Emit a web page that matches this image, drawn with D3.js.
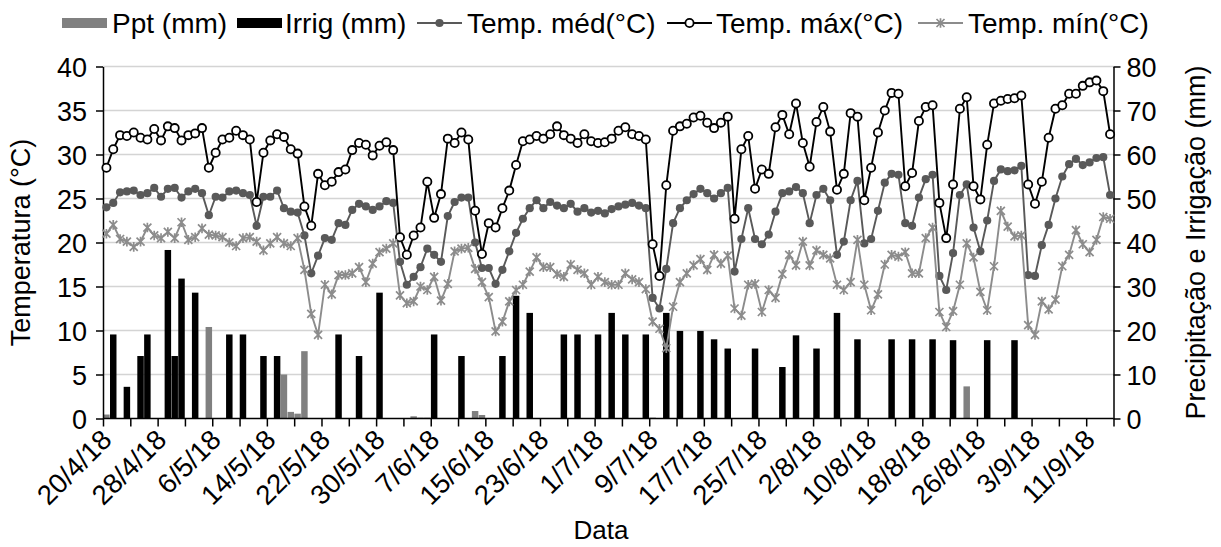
<!DOCTYPE html>
<html>
<head>
<meta charset="utf-8">
<script src="https://cdnjs.cloudflare.com/ajax/libs/d3/7.8.5/d3.min.js"></script>
<style>
  body { margin: 0; background: #fff; }
  svg { font-family: "Liberation Sans", Arial, sans-serif; }
  .axis path, .axis line { stroke: #000; stroke-width: 1.5; }
  .axis text { font-size: 27px; fill: #000; }
</style>
</head>
<body>
<svg></svg>
<script>
// Datas (uma por dia, 20/4/18 a 14/9/18)
const startDate = Date.UTC(2018, 3, 20);
const endDate = Date.UTC(2018, 8, 15);

// Temperaturas diárias (°C)
const tMax = [28.5, 30.6, 32.2, 32.1, 32.5, 31.9, 31.7, 32.9, 31.6, 33.2, 33.0, 31.6, 32.2, 32.4, 33.0, 28.5, 30.2, 31.7, 31.9, 32.7,
  32.2, 31.7, 24.6, 30.2, 31.6, 32.3, 32.0, 30.6, 30.1, 24.1, 21.9, 27.8, 26.5, 26.9, 28.0, 28.3, 30.5, 31.3, 31.1, 29.9,
  31.0, 31.4, 30.5, 20.6, 18.6, 20.8, 21.7, 26.9, 22.8, 25.5, 31.8, 31.3, 32.5, 31.7, 23.6, 18.7, 22.2, 21.7, 23.9, 25.9,
  28.8, 31.5, 31.7, 32.1, 31.8, 32.3, 33.2, 32.2, 31.8, 31.3, 32.3, 31.5, 31.3, 31.4, 31.8, 32.7, 33.1, 32.3, 32.1, 31.7,
  19.8, 16.2, 26.5, 32.7, 33.2, 33.5, 34.2, 34.4, 33.6, 33.0, 33.6, 34.3, 22.7, 30.6, 32.1, 26.1, 28.3, 27.8, 33.1, 34.5,
  32.3, 35.8, 31.3, 28.6, 33.7, 35.4, 32.6, 26.0, 27.8, 34.7, 34.3, 24.8, 28.5, 32.5, 35.0, 37.0, 36.9, 26.4, 27.9, 33.8,
  35.4, 35.6, 24.5, 20.5, 26.6, 35.2, 36.5, 26.4, 24.9, 31.1, 35.8, 36.1, 36.3, 36.4, 36.7, 26.6, 24.4, 26.9, 31.9, 35.2,
  35.6, 36.9, 36.9, 37.8, 38.2, 38.4, 37.2, 32.3];

const tMed = [24.0, 24.5, 25.7, 25.8, 25.9, 25.4, 25.6, 26.2, 25.2, 26.1, 26.2, 25.1, 25.8, 26.1, 25.6, 23.1, 25.2, 25.1, 25.8, 25.9,
  25.6, 25.4, 21.9, 25.2, 25.2, 25.9, 23.9, 23.5, 23.4, 20.8, 16.5, 18.5, 20.5, 20.3, 22.2, 22.0, 23.7, 24.4, 24.1, 23.7,
  24.1, 24.7, 24.5, 17.8, 15.2, 16.1, 17.2, 19.3, 18.6, 17.8, 23.0, 24.6, 25.1, 25.1, 20.0, 17.1, 17.1, 15.3, 16.9, 19.0,
  21.1, 22.7, 23.9, 24.8, 23.9, 24.6, 24.2, 23.9, 24.4, 23.5, 23.9, 23.4, 23.6, 23.3, 23.8, 24.1, 24.3, 24.5, 24.2, 23.9,
  13.7, 12.5, 17.0, 22.2, 23.9, 24.8, 25.5, 26.1, 25.6, 25.0, 25.6, 26.2, 16.7, 20.4, 23.9, 20.4, 19.8, 20.9, 23.5, 25.6,
  25.8, 26.3, 25.6, 22.2, 25.4, 26.1, 24.8, 18.6, 20.1, 24.8, 27.0, 19.9, 20.4, 23.6, 26.8, 27.8, 27.7, 22.2, 21.9, 25.1,
  27.2, 27.7, 16.2, 14.6, 18.8, 25.4, 26.6, 21.7, 19.0, 22.5, 27.0, 28.3, 28.1, 28.2, 28.7, 16.3, 16.2, 19.7, 22.0, 25.0,
  27.5, 28.9, 29.5, 28.8, 29.1, 29.6, 29.7, 25.4];

const tMin = [21.0, 22.0, 20.4, 20.1, 19.5, 20.1, 21.7, 20.8, 20.5, 21.2, 20.5, 22.3, 20.3, 20.6, 21.6, 20.9, 20.8, 20.6, 20.0, 19.6,
  20.5, 20.6, 20.1, 19.1, 19.9, 20.6, 19.9, 19.6, 20.5, 16.9, 11.9, 9.5, 15.2, 14.1, 16.3, 16.3, 16.5, 17.2, 15.5, 17.6,
  18.9, 19.3, 19.9, 14.0, 13.1, 13.3, 15.0, 14.6, 16.1, 13.4, 15.3, 19.0, 19.3, 19.4, 17.0, 15.5, 13.8, 9.9, 11.0, 13.3,
  14.6, 15.2, 16.7, 18.3, 17.2, 17.2, 16.4, 16.1, 17.5, 16.9, 16.5, 15.2, 16.1, 15.5, 15.2, 15.2, 16.5, 15.8, 15.5, 14.7,
  11.0, 10.2, 8.0, 12.7, 15.5, 16.5, 17.4, 18.1, 16.9, 18.6, 17.6, 18.5, 12.5, 11.7, 15.2, 15.3, 12.1, 14.6, 13.7, 16.4,
  18.6, 17.4, 20.1, 17.4, 19.1, 18.6, 18.2, 15.2, 14.6, 15.5, 20.3, 15.2, 12.3, 14.1, 17.5, 18.6, 18.4, 18.9, 16.5, 16.5,
  20.5, 21.7, 12.1, 10.4, 12.2, 15.2, 19.9, 18.3, 14.4, 12.3, 17.3, 23.6, 21.8, 20.7, 20.8, 10.6, 9.5, 13.3, 12.4, 13.5,
  17.3, 18.6, 21.4, 19.8, 18.9, 20.3, 22.9, 22.7];

// Precipitação (mm) - só os dias com chuva
const ppt = [
  ["2018-04-20", 0.9], ["2018-05-05", 20.8], ["2018-05-16", 10.0], ["2018-05-17", 1.5], ["2018-05-18", 1.1],
  ["2018-05-19", 15.3], ["2018-06-04", 0.5], ["2018-06-05", 0.2], ["2018-06-06", 0.2], ["2018-06-13", 1.7],
  ["2018-06-14", 0.8], ["2018-07-09", 0.2], ["2018-08-24", 7.3]
];

// Irrigação (mm)
const irrig = [
  ["2018-04-21", 19.1], ["2018-04-23", 7.2], ["2018-04-25", 14.2], ["2018-04-26", 19.1], ["2018-04-29", 38.3],
  ["2018-04-30", 14.2], ["2018-05-01", 31.8], ["2018-05-03", 28.6], ["2018-05-08", 19.1], ["2018-05-10", 19.1],
  ["2018-05-13", 14.2], ["2018-05-15", 14.2], ["2018-05-24", 19.1], ["2018-05-27", 14.2], ["2018-05-30", 28.6],
  ["2018-06-07", 19.1], ["2018-06-11", 14.2], ["2018-06-17", 14.2], ["2018-06-19", 27.9], ["2018-06-21", 24.0],
  ["2018-06-26", 19.1], ["2018-06-28", 19.1], ["2018-07-01", 19.1], ["2018-07-03", 24.0], ["2018-07-05", 19.1],
  ["2018-07-08", 19.1], ["2018-07-11", 24.0], ["2018-07-13", 19.9], ["2018-07-16", 19.9], ["2018-07-18", 18.0],
  ["2018-07-20", 15.9], ["2018-07-24", 15.9], ["2018-07-28", 11.7], ["2018-07-30", 18.9], ["2018-08-02", 15.9],
  ["2018-08-05", 24.0], ["2018-08-08", 18.0], ["2018-08-13", 18.0], ["2018-08-16", 18.0], ["2018-08-19", 18.0],
  ["2018-08-22", 17.8], ["2018-08-27", 17.8], ["2018-08-31", 17.8]
];

// Eixos
const leftTicks = [0, 5, 10, 15, 20, 25, 30, 35, 40];
const rightTicks = [0, 10, 20, 30, 40, 50, 60, 70, 80];

const width = 1221;
const height = 547;
const plot = { left: 103, right: 1113.5, top: 66.5, bottom: 418.5 };

const svg = d3.select("svg")
  .attr("width", width)
  .attr("height", height);

const dates = d3.utcDay.range(new Date(startDate), new Date(endDate));
const parse = d3.utcParse("%Y-%m-%d");
const fmt = d3.utcFormat("%-d/%-m/%y");

const x = d3.scaleUtc()
  .domain([new Date(startDate), new Date(endDate)])
  .range([plot.left, plot.right]);
const dayW = x(d3.utcDay.offset(new Date(startDate), 1)) - x(new Date(startDate));
const barW = dayW * 0.95;
const cx = d => x(d) + dayW / 2;

const yL = d3.scaleLinear().domain([0, 40]).range([plot.bottom, plot.top]);
const yR = d3.scaleLinear().domain([0, 80]).range([plot.bottom, plot.top]);

// Linhas de grade
svg.append("g")
  .selectAll("line")
  .data(leftTicks.slice(1))
  .join("line")
  .attr("x1", plot.left)
  .attr("x2", plot.right)
  .attr("y1", d => yL(d))
  .attr("y2", d => yL(d))
  .attr("stroke", "#d4d4d4")
  .attr("stroke-width", 1.3);

// Barras
svg.append("g")
  .selectAll("rect")
  .data(ppt)
  .join("rect")
  .attr("x", d => x(parse(d[0])) + (dayW - barW) / 2)
  .attr("y", d => yR(d[1]))
  .attr("width", barW)
  .attr("height", d => yR(0) - yR(d[1]))
  .attr("fill", "#808080");

svg.append("g")
  .selectAll("rect")
  .data(irrig)
  .join("rect")
  .attr("x", d => x(parse(d[0])) + (dayW - barW) / 2)
  .attr("y", d => yR(d[1]))
  .attr("width", barW)
  .attr("height", d => yR(0) - yR(d[1]))
  .attr("fill", "#000");

// Eixo X
const xAxis = d3.axisBottom(x)
  .tickValues(d3.utcDay.range(new Date(startDate), d3.utcDay.offset(new Date(endDate), 1), 4))
  .tickSize(8)
  .tickFormat("");

svg.append("g")
  .attr("class", "axis")
  .attr("transform", `translate(0, ${plot.bottom})`)
  .call(xAxis)
  .call(g => g.select(".domain").attr("d", `M${plot.left},0H${plot.right}`));

svg.append("g")
  .selectAll("text")
  .data(dates.filter((d, i) => i % 8 === 0))
  .join("text")
  .attr("transform", d => `translate(${cx(d) + 7}, ${plot.bottom + 23}) rotate(-45)`)
  .attr("text-anchor", "end")
  .attr("font-size", 27.5)
  .text(d => fmt(d));

// Eixos Y
svg.append("g")
  .attr("class", "axis")
  .attr("transform", `translate(${plot.left}, 0)`)
  .call(d3.axisLeft(yL).tickValues(leftTicks).tickSize(7).tickPadding(9).tickSizeOuter(0))
  .call(g => g.selectAll("text").attr("dy", "0.36em"));

svg.append("g")
  .attr("class", "axis")
  .attr("transform", `translate(${plot.right}, 0)`)
  .call(d3.axisRight(yR).tickValues(rightTicks).tickSize(7).tickPadding(6).tickSizeOuter(0))
  .call(g => g.selectAll("text").attr("dy", "0.36em"));

// Títulos dos eixos
svg.append("text")
  .attr("text-anchor", "middle")
  .attr("transform", `translate(30, ${(plot.top + plot.bottom) / 2}) rotate(-90)`)
  .attr("font-size", 27)
  .text("Temperatura (°C)");

svg.append("text")
  .attr("text-anchor", "middle")
  .attr("transform", `translate(1186, ${(plot.top + plot.bottom) / 2}) rotate(-90)`)
  .attr("dy", "0.7em")
  .attr("font-size", 27)
  .text("Precipitação e Irrigação (mm)");

svg.append("text")
  .attr("text-anchor", "middle")
  .attr("x", 601)
  .attr("y", 539)
  .attr("font-size", 26)
  .text("Data");

// Séries de temperatura
const series = [
  { name: "Temp. méd(°C)", values: tMed, color: "#595959", marker: "dot" },
  { name: "Temp. máx(°C)", values: tMax, color: "#000", marker: "circle" },
  { name: "Temp. mín(°C)", values: tMin, color: "#8c8c8c", marker: "star" }
];

const starPath = "M-4,-4L4,4M-4,4L4,-4M0,-4.8V4.8";

function drawMarker(g, type, color) {
  if (type === "dot") {
    g.append("circle").attr("r", 4.1).attr("fill", color);
  } else if (type === "circle") {
    g.append("circle").attr("r", 4.1).attr("fill", "#fff").attr("stroke", color).attr("stroke-width", 1.8);
  } else {
    g.append("path").attr("d", starPath).attr("fill", "none").attr("stroke", color).attr("stroke-width", 1.7);
  }
}

const line = d3.line()
  .x((d, i) => cx(dates[i]))
  .y(d => yL(d));

series.forEach(s => {
  svg.append("path")
    .datum(s.values)
    .attr("d", line)
    .attr("fill", "none")
    .attr("stroke", s.color)
    .attr("stroke-width", 1.9);

  svg.append("g")
    .selectAll("g")
    .data(s.values)
    .join("g")
    .attr("transform", (d, i) => `translate(${cx(dates[i])}, ${yL(d)})`)
    .each(function () { drawMarker(d3.select(this), s.marker, s.color); });
});

// Legenda
const legend = svg.append("g").attr("font-size", 28);
const ly = 23;

legend.append("rect").attr("x", 62).attr("y", ly - 5).attr("width", 45).attr("height", 10).attr("fill", "#808080");
legend.append("text").attr("x", 112).attr("y", ly).attr("dy", "0.35em").text("Ppt (mm)");
legend.append("rect").attr("x", 237).attr("y", ly - 5).attr("width", 45).attr("height", 10).attr("fill", "#000");
legend.append("text").attr("x", 285).attr("y", ly).attr("dy", "0.35em").text("Irrig (mm)");

const lineItems = [
  { s: series[0], x0: 417, tx: 467 },
  { s: series[1], x0: 667, tx: 716 },
  { s: series[2], x0: 918, tx: 968 }
];
lineItems.forEach(it => {
  legend.append("line")
    .attr("x1", it.x0).attr("x2", it.x0 + 45)
    .attr("y1", ly).attr("y2", ly)
    .attr("stroke", it.s.color).attr("stroke-width", 2);
  const m = legend.append("g").attr("transform", `translate(${it.x0 + 22.5}, ${ly})`);
  drawMarker(m, it.s.marker, it.s.color);
  legend.append("text").attr("x", it.tx).attr("y", ly).attr("dy", "0.35em").text(it.s.name);
});
</script>
</body>
</html>
